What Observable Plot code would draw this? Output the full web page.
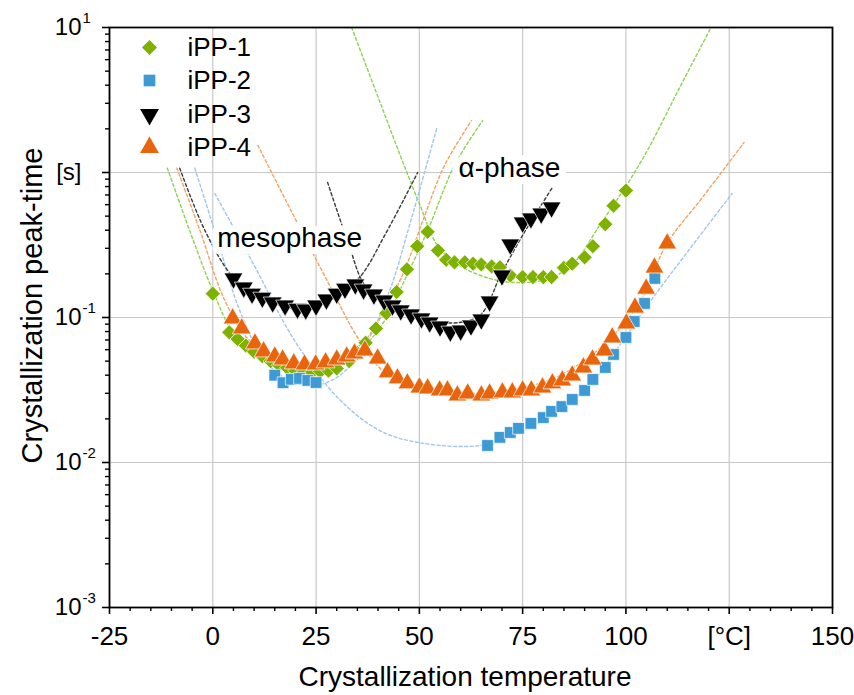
<!DOCTYPE html>
<html><head><meta charset="utf-8">
<script src="https://cdn.jsdelivr.net/npm/d3@7"></script>
<script src="https://cdn.jsdelivr.net/npm/@observablehq/plot@0.6"></script>
<style>
body{margin:0;background:#fff;}
#chart{width:854px;height:695px;}
</style></head><body><div id="chart"></div>
<script>
// ---- measured data (temperature °C, peak time s) ----
const T1 = [0, 4, 6, 8, 10, 12, 14, 16, 18, 20, 22, 24, 26, 28, 30, 33, 35, 37, 39.5, 42, 44.5, 47, 49.5, 52, 54.5, 56.5, 58.5, 61, 63, 65, 67.5, 69.5, 72, 75, 77.5, 80, 82, 85, 87, 90, 92, 95, 97, 100];
const t1 = [0.146, 0.079, 0.071, 0.064, 0.058, 0.054, 0.050, 0.047, 0.045, 0.043, 0.042, 0.042, 0.0425, 0.043, 0.0445, 0.050, 0.057, 0.067, 0.084, 0.107, 0.15, 0.215, 0.31, 0.39, 0.29, 0.25, 0.24, 0.24, 0.235, 0.232, 0.225, 0.222, 0.195, 0.19, 0.19, 0.19, 0.19, 0.22, 0.235, 0.26, 0.31, 0.44, 0.59, 0.75];

const T2 = [15, 17, 19, 21, 23, 25, 66.5, 69.5, 72, 74, 77, 80, 82, 84.5, 87, 90, 92, 95, 97, 100, 102, 104.5, 107];
const t2 = [0.040, 0.0355, 0.0375, 0.038, 0.0368, 0.0356, 0.0131, 0.0149, 0.0161, 0.0172, 0.0186, 0.0204, 0.0225, 0.0243, 0.0272, 0.0314, 0.0374, 0.0452, 0.0556, 0.0728, 0.0938, 0.125, 0.186];

const T3 = [5, 7.5, 9.5, 12, 14.5, 17.5, 20.5, 22.5, 25, 27.5, 30, 32, 34.5, 36.5, 39, 41.5, 43.5, 45.5, 48, 50.5, 52.5, 55, 57.5, 60, 62.5, 65, 67, 70, 72, 75, 77, 79.5, 82];
const t3 = [0.186, 0.161, 0.146, 0.137, 0.127, 0.121, 0.115, 0.1135, 0.121, 0.133, 0.146, 0.158, 0.169, 0.156, 0.144, 0.131, 0.121, 0.112, 0.105, 0.0985, 0.0924, 0.0867, 0.080, 0.0813, 0.0881, 0.0969, 0.129, 0.195, 0.319, 0.452, 0.482, 0.521, 0.574];

const T4 = [4.8, 7, 10.2, 12.3, 15, 16.9, 19.6, 22.2, 24.9, 27.3, 30, 32.4, 34.3, 36.8, 39.9, 42.3, 44.7, 47.1, 50, 52, 54.9, 56.8, 59.2, 61.7, 65, 67, 70.1, 72.5, 75, 77.1, 79.8, 82.2, 84.6, 87, 89.7, 91.9, 94.8, 96.7, 100.1, 102.2, 104.9, 106.9, 110];
const t4 = [0.0985, 0.084, 0.0662, 0.0583, 0.0538, 0.0513, 0.0482, 0.0474, 0.0474, 0.049, 0.0513, 0.0538, 0.0565, 0.0592, 0.0521, 0.0418, 0.038, 0.0351, 0.0329, 0.0324, 0.0314, 0.0314, 0.029, 0.0299, 0.029, 0.0299, 0.0304, 0.0304, 0.0314, 0.0314, 0.0329, 0.0351, 0.0368, 0.0398, 0.0452, 0.0513, 0.0592, 0.0728, 0.0909, 0.117, 0.158, 0.221, 0.324];

// ---- fit curves ----
const greenMesoT = [-11, -5.6, 0, 5.3, 11.4, 21, 28.3, 35.5, 41.6, 46.4, 52, 58.5, 65.3];
const greenMesoY = [1.07, 0.398, 0.153, 0.075, 0.052, 0.043, 0.045, 0.059, 0.0953, 0.18, 0.398, 1.12, 2.28];
const greenAlphaT = [33.6, 39.4, 45.2, 50.0, 54.4, 59.7, 67.0, 74.2, 81.5, 87.5, 93.6, 100.1, 105.2, 112.9, 120.6];
const greenAlphaY = [10, 3.68, 1.35, 0.611, 0.314, 0.229, 0.186, 0.174, 0.186, 0.24, 0.431, 0.813, 1.42, 3.80, 10];

const blueMesoT = [-4.35, 1.2, 6.5, 12.6, 18.6, 24.7, 30.7, 36.8, 42.8, 47.6, 54.2];
const blueMesoY = [1.07, 0.34, 0.112, 0.0505, 0.0368, 0.034, 0.0398, 0.064, 0.153, 0.431, 2.01];
const blueAlphaT = [0.5, 9.4, 19.8, 30.2, 40.4, 50, 64.6, 74.2, 83.9, 91.2, 98.4, 106.4, 114.8, 125.7];
const blueAlphaY = [0.716, 0.247, 0.0694, 0.0281, 0.0166, 0.0137, 0.0131, 0.0161, 0.023, 0.034, 0.064, 0.135, 0.281, 0.716];

const blackMesoT = [-8.0, -1.9, 4.6, 11.4, 21, 28.3, 35.5, 41.6, 49.6];
const blackMesoY = [1.07, 0.398, 0.195, 0.137, 0.115, 0.131, 0.189, 0.368, 1.0];
const blackAlphaT = [27.8, 32.6, 37.2, 45.2, 52.5, 59.7, 64.6, 67, 69.4, 75.4, 82.2];
const blackAlphaY = [0.853, 0.34, 0.161, 0.112, 0.095, 0.0924, 0.103, 0.131, 0.189, 0.386, 0.788];

const orangeMesoT = [-8.7, -3.1, 2.9, 8.9, 16.2, 23.5, 30.7, 36.8, 41.6, 46.4, 51.3, 56.1, 62.6];
const orangeMesoY = [1.07, 0.398, 0.131, 0.0694, 0.052, 0.0474, 0.052, 0.0694, 0.112, 0.211, 0.505, 1.12, 2.28];
const orangeAlphaT = [10.9, 19.3, 28.3, 35.5, 41.6, 50, 62.1, 74.2, 83.9, 93.6, 103.2, 109.8, 118.5, 128.6];
const orangeAlphaY = [1.54, 0.521, 0.166, 0.0694, 0.0418, 0.0324, 0.0299, 0.0324, 0.0398, 0.0611, 0.125, 0.319, 0.672, 1.61];

// ---- labels & ticks ----
const seriesNames = ["iPP-1", "iPP-2", "iPP-3", "iPP-4"];
const xMajor = [-25, 0, 25, 50, 75, 100, 125, 150];
const xLabels = ["-25", "0", "25", "50", "75", "100", "[°C]", "150"];
const xMinor = [-20,-15,-10,-5,5,10,15,20,30,35,40,45,55,60,65,70,80,85,90,95,105,110,115,120,130,135,140,145];
const yMajor = [0.001, 0.01, 0.1, 1, 10];
const yBase = ["10", "10", "10", "[s]", "10"];
const yExp = ["-3", "-2", "-1", "", "1"];
const yMinorMult = [2, 3, 4, 5, 6, 7, 8, 9];
const annoText = ["mesophase", "α-phase"];
const annoT = [18.6, 71.8];
const annoY = [0.356, 1.08];

// ---- styles ----
const markColor = ["#7fb100", "#3d9ad5", "#000000", "#e8650d"];
const dashColor = ["#8fd14f", "#9fc5f0", "#3a3a3a", "#f3a261"];
const symbols = ["diamond2", "square", "triangle", "triangle"];
const radii = [6.8, 6.6, 7.0, 7.0];
const rotations = [0, 0, 180, 0];

const pts = (T, t) => T.map((d, i) => ({T: d, t: t[i]}));
const series = [pts(T1, t1), pts(T2, t2), pts(T3, t3), pts(T4, t4)];
const fits = [
  [pts(greenMesoT, greenMesoY), pts(greenAlphaT, greenAlphaY)],
  [pts(blueMesoT, blueMesoY), pts(blueAlphaT, blueAlphaY)],
  [pts(blackMesoT, blackMesoY), pts(blackAlphaT, blackAlphaY)],
  [pts(orangeMesoT, orangeMesoY), pts(orangeAlphaT, orangeAlphaY)]
];
const yMinor = [];
for (const base of [0.001, 0.01, 0.1, 1]) for (const m of yMinorMult) yMinor.push(+(base * m).toPrecision(3));

const font = "'Liberation Sans', Arial, sans-serif";
const marks = [
  Plot.gridX(xMajor, {stroke: "#c8c8c8", strokeOpacity: 1, strokeWidth: 1.2}),
  Plot.gridY(yMajor, {stroke: "#c8c8c8", strokeOpacity: 1, strokeWidth: 1.2})
];
fits.forEach((pair, i) => pair.forEach(f => marks.push(
  Plot.line(f, {x: "T", y: "t", curve: "catmull-rom", stroke: dashColor[i], strokeWidth: 1.4, strokeDasharray: "3,2.5", clip: true})
)));
// annotation labels with white halo
marks.push(Plot.text(annoText, {x: (d, i) => annoT[i], y: (d, i) => annoY[i], text: d => d, fontSize: 28, fill: "#000", stroke: "white", strokeWidth: 14, strokeLinejoin: "round", fontFamily: font}));
series.forEach((s, i) => marks.push(
  Plot.dot(s, {x: "T", y: "t", symbol: symbols[i], r: radii[i], rotate: rotations[i], fill: markColor[i], stroke: "white", strokeWidth: 0.7})
));
marks.push(Plot.frame({stroke: "#000", strokeWidth: 1.8}));
marks.push(Plot.axisX(xMajor, {tickSize: 7, tickPadding: 12, tickFormat: d => xLabels[xMajor.indexOf(d)], fontSize: 26, label: null, strokeWidth: 1.6, fontFamily: font}));
marks.push(Plot.axisX(xMinor, {tickSize: 4, tickFormat: () => "", label: null, strokeWidth: 1.4}));
marks.push(Plot.axisY(yMajor, {tickSize: 7, tickFormat: () => "", label: null, strokeWidth: 1.6}));
marks.push(Plot.axisY(yMinor, {tickSize: 4, tickFormat: () => "", label: null, strokeWidth: 1.4}));
marks.push(Plot.text(yMajor, {y: d => d, frameAnchor: "left", text: (d, i) => yBase[i], textAnchor: "end", lineAnchor: "middle", dx: -28, fontSize: 24, fontFamily: font}));
marks.push(Plot.text(yMajor, {y: d => d, frameAnchor: "left", text: (d, i) => yExp[i], textAnchor: "start", lineAnchor: "middle", dx: -27, dy: -9, fontSize: 15, fontFamily: font}));
marks.push(Plot.text(["Crystallization temperature"], {frameAnchor: "bottom", textAnchor: "middle", lineAnchor: "middle", dy: 70, dx: -6, fontSize: 28, fontFamily: font}));
marks.push(Plot.text(["Crystallization peak-time"], {frameAnchor: "left", textAnchor: "middle", lineAnchor: "middle", dx: -77, dy: -12, rotate: -90, fontSize: 29, fontFamily: font}));
// legend
const legendDy = [20, 53, 87, 120];
seriesNames.forEach((name, i) => {
  marks.push(Plot.dot([name], {frameAnchor: "top-left", dx: 40, dy: legendDy[i], symbol: symbols[i], r: radii[i], rotate: rotations[i], fill: markColor[i]}));
  marks.push(Plot.text([name], {frameAnchor: "top-left", dx: 78, dy: legendDy[i], text: d => d, textAnchor: "start", lineAnchor: "middle", fontSize: 26, fontFamily: font}));
});

const chart = Plot.plot({
  width: 854, height: 695,
  marginLeft: 109, marginRight: 22, marginTop: 27, marginBottom: 88,
  style: {background: "white", fontFamily: font, color: "#000"},
  x: {domain: [-25, 150]},
  y: {type: "log", domain: [0.001, 10]},
  marks
});
document.getElementById("chart").appendChild(chart);
</script></body></html>
